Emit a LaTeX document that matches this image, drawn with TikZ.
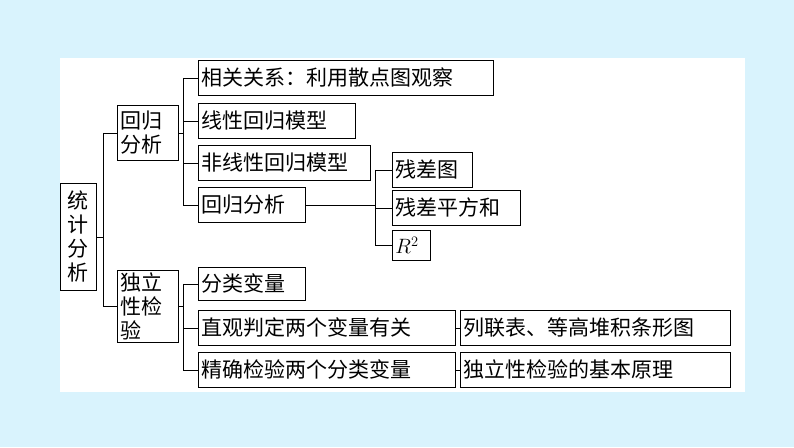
\documentclass[tikz,border=0pt]{standalone}
\usepackage{fontspec}
\newfontfamily\cjk{Noto Sans CJK SC}
\begin{document}
\begin{tikzpicture}[x=1pt,y=-1pt,
  bx/.style={draw,line width=0.8pt,anchor=north west,inner ysep=0pt,inner xsep=3pt,font=\cjk\fontsize{21}{24}\selectfont},
  ln/.style={line width=0.8pt}]
\fill[cyan!15!white] (0,0) rectangle (794,447);
\fill[white] (60,58) rectangle (745,392);
\path[use as bounding box] (0,0) rectangle (794,447);
\newcommand{\bb}[6]{\node[bx,text width=#4-#2-6,align=left,minimum height=#5-#3] (#1) at (#2,#3) {#6};}
\newcommand{\bc}[6]{\node[bx,text width=#4-#2-6,align=center,minimum height=#5-#3] (#1) at (#2,#3) {#6};}
\bc{ts}{60}{183}{96}{290}{统\\计\\分\\析}
\bb{hg}{117}{105}{178}{160}{回归\\分析}
\bb{dl}{117}{270}{178}{342}{独立\\性检\\验}
\bb{a1}{198}{60}{493}{95}{相关关系：利用散点图观察}
\bb{a2}{198}{103}{355}{138}{线性回归模型}
\bb{a3}{198}{145}{370}{180}{非线性回归模型}
\bb{a4}{198}{187}{305}{222}{回归分析}
\bb{c1}{392}{152}{472}{187}{残差图}
\bb{c2}{392}{190}{520}{225}{残差平方和}
\bb{c3}{392}{230}{430}{260}{$R^2$}
\bb{b1}{198}{267}{305}{300}{分类变量}
\bb{b2}{198}{310}{455}{345}{直观判定两个变量有关}
\bb{b3}{198}{352}{455}{387}{精确检验两个分类变量}
\bb{d2}{460}{310}{730}{345}{列联表、等高堆积条形图}
\bb{d3}{460}{352}{730}{387}{独立性检验的基本原理}
\draw[ln] (ts.east) -- (103,0|-ts.east);
\draw[ln] (103,0|-hg.west) -- (103,0|-dl.west);
\draw[ln] (103,0|-hg.west) -- (hg.west);
\draw[ln] (103,0|-dl.west) -- (dl.west);
\draw[ln] (hg.east) -- (183,0|-hg.east);
\draw[ln] (183,0|-a1.west) -- (183,0|-a4.west);
\foreach \n in {a1,a2,a3,a4} \draw[ln] (183,0|-\n.west) -- (\n.west);
\draw[ln] (dl.east) -- (183,0|-dl.east);
\draw[ln] (183,0|-b1.west) -- (183,0|-b3.west);
\foreach \n in {b1,b2,b3} \draw[ln] (183,0|-\n.west) -- (\n.west);
\draw[ln] (a4.east) -- (375,0|-a4.east);
\draw[ln] (375,0|-c1.west) -- (375,0|-c3.west);
\foreach \n in {c1,c2,c3} \draw[ln] (375,0|-\n.west) -- (\n.west);
\draw[ln] (b2) -- (d2);
\draw[ln] (b3) -- (d3);
\end{tikzpicture}
\end{document}
